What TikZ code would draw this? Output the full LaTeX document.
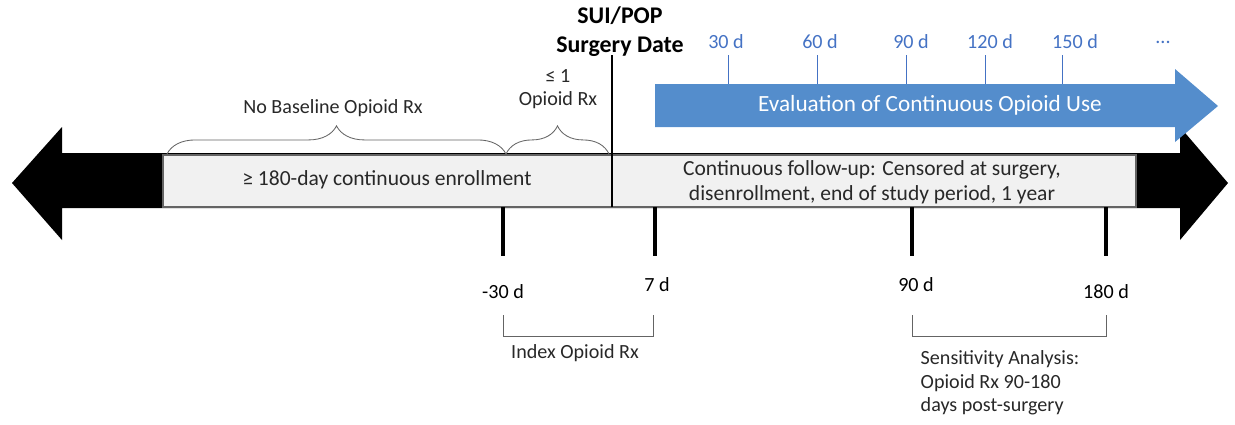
\documentclass[tikz,border=0pt]{standalone}
\usepackage{fontspec}
\setmainfont{Carlito}
\usetikzlibrary{decorations.pathreplacing}

\definecolor{evalblue}{RGB}{84,141,204}
\definecolor{daysblue}{RGB}{68,114,196}
\definecolor{boxgrey}{RGB}{241,241,241}
\definecolor{edgegrey}{RGB}{100,100,100}
\definecolor{txtgrey}{RGB}{40,40,40}

\tikzset{
  lbl/.style={font=\fontsize{14.3}{16.7}\selectfont, text=txtgrey, inner sep=1pt},
  boxlbl/.style={font=\fontsize{15.3}{17.7}\selectfont, text=txtgrey, inner sep=1pt},
  daylbl/.style={font=\fontsize{14.3}{16.7}\selectfont, text=daysblue, inner sep=1pt},
  daymark/.style={line width=2.4pt},
  bracket/.style={draw=edgegrey, line width=0.6pt},
  curly/.style={draw=edgegrey, line width=0.6pt, decorate,
    decoration={brace, amplitude=20pt}},
  greybox/.style={fill=boxgrey, draw=edgegrey, line width=0.8pt},
}

\begin{document}
\begin{tikzpicture}[x=0.025cm, y=-0.025cm]
  \useasboundingbox (0,0) rectangle (1235,424);
  % black double arrow (time line)
  \fill (12,183) -- (62,127) -- (62,153) -- (1180,153) -- (1180,127) -- (1228,183)
    -- (1180,240) -- (1180,208) -- (62,208) -- (62,240) -- cycle;
  \draw[greybox] (163,155) rectangle (612,207);
  \draw[greybox] (612,155) rectangle (1136,207);
  \node[boxlbl] (enroll) at (387,180) {≥ 180-day continuous enrollment};
  \node[boxlbl, align=center] (follow) at (872,182)
    {Continuous follow-up: Censored at surgery,\\disenrollment, end of study period, 1 year};

  % surgery date
  \node[font=\fontsize{17}{20.5}\selectfont\bfseries, align=center, inner sep=1pt]
    (surg) at (620,32) {SUI/POP\\Surgery Date};
  \coordinate (surgtop) at (612,55);
  \coordinate (surgend) at (612,207);
  \draw[line width=2pt] (surgtop) -- (surgend);

  % baseline braces
  \coordinate (bl) at (167,154);
  \coordinate (bm) at (506,154);
  \coordinate (br) at (609,154);
  \draw[curly] (bl) -- (bm);
  \draw[curly] (bm) -- (br);
  \node[lbl] (nobase) at (333,108) {No Baseline Opioid Rx};
  \node[lbl, align=center] (onerx) at (558,89) {≤ 1\\Opioid Rx};

  % evaluation arrow
  \fill[evalblue] (655,84) -- (1175,84) -- (1175,69) -- (1218,106) -- (1175,142)
    -- (1175,127) -- (655,127) -- cycle;
  \node[font=\fontsize{16.5}{19}\selectfont, text=white] (evaluse) at (930,105)
    {Evaluation of Continuous Opioid Use};
  \foreach \x/\t/\d in {728/726/30 d, 817/820/60 d, 906/911/90 d, 985/990/120 d, 1062/1075/150 d} {
    \node[daylbl] (d\x) at (\t,42) {\d};
    \coordinate (e\x) at (\x,84);
    \draw[daysblue, line width=0.6pt] (\x,55) -- (e\x);
  }
  \node[daylbl] (dmore) at (1163,42) {...};

  % day marks below the time line
  \foreach \x/\t/\d/\y in {503/503/-30 d/292, 655/657/7 d/285, 912/916/90 d/285, 1106/1106/180 d/292} {
    \coordinate (m\x) at (\x,207);
    \node[lbl, text=black] (t\x) at (\t,\y) {\d};
    \draw[daymark] (m\x) -- (\x,256);
  }

  % brackets
  \draw[bracket] (503,315) -- (503,336) -- (653,336) -- (653,315);
  \node[lbl] (index) at (575,353) {Index Opioid Rx};
  \draw[bracket] (912,315) -- (912,336) -- (1106,336) -- (1106,315);
  \node[lbl, align=left, anchor=west] (sens) at (919,383)
    {Sensitivity Analysis:\\Opioid Rx 90-180\\days post-surgery};
\end{tikzpicture}
\end{document}
